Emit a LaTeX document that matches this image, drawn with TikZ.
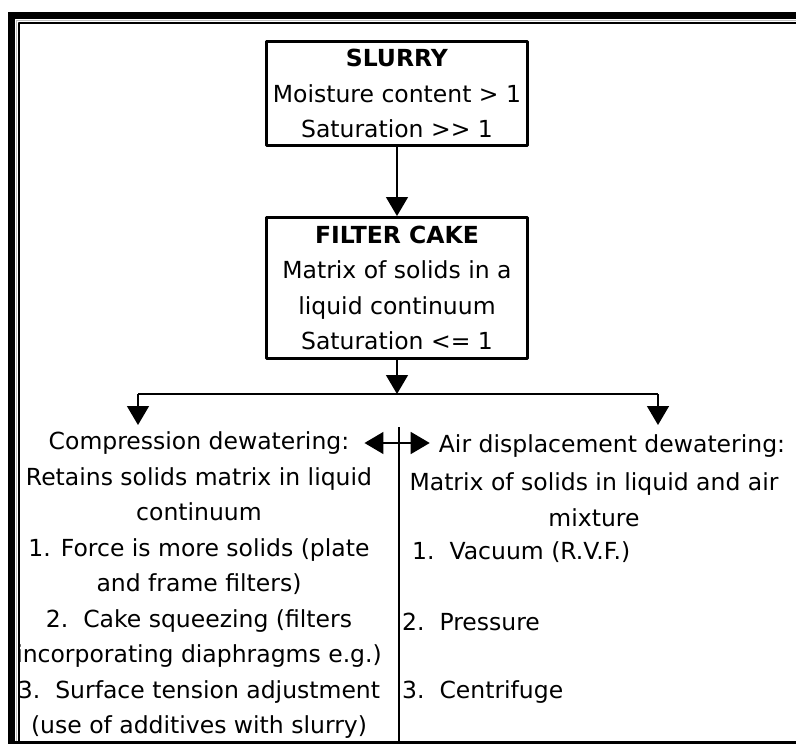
\documentclass[tikz,border=0pt]{standalone}
\usepackage{fontspec}
\setmainfont{DejaVu Sans}
\usetikzlibrary{arrows.meta}

\begin{document}
\begin{tikzpicture}[x=1pt,y=-1pt,line join=bevel,
  >={Triangle[length=19pt,width=22pt]},
  every node/.style={font=\fontsize{23.5}{35.5}\selectfont},
  box/.style={draw,rectangle,line width=3pt,minimum width=261pt,align=center,inner sep=0pt},
  txt/.style={inner sep=0pt,align=center},
  link/.style={line width=1.5pt}]
%%
\useasboundingbox (0,0) rectangle (796,744);
% frame
\fill (8,12) rectangle (796,19);
\fill (8,12) rectangle (15,744);
\fill (15,741) rectangle (796,744);
\draw[gray!50,line width=1pt] (16.5,741) -- (16.5,20.5) -- (796,20.5);
\draw[line width=2pt] (19,741) -- (19,22.5) -- (796,22.5);
%%
\node (A) at (397,93.5) [box,minimum height=104pt] {\textbf{SLURRY}\\Moisture content > 1\\Saturation >\kern0pt> 1};
\node (B) at (397,288) [box,minimum height=141pt] {\textbf{FILTER CAKE}\\Matrix of solids in a\\liquid continuum\\Saturation <= 1};
\coordinate (S) at (397,394);
\coordinate (L) at (138,394);
\coordinate (R) at (658,394);
\coordinate (L1) at (138,425);
\coordinate (R1) at (658,425);
\coordinate (V) at (399,427);
\coordinate (V1) at (399,741);
\draw [link,->] (A) -- (B);
\draw [link,->] (B) -- (S);
\draw [link] (L) -- (R);
\draw [link,->] (L) -- (L1);
\draw [link,->] (R) -- (R1);
\draw [link] (V) -- (V1);
%% compression side
\node (C) at (199,443) [txt] {Compression dewatering:};
\node (D) at (199,603) [txt] {Retains solids matrix in liquid\\continuum\\1. Force is more solids (plate\\and frame filters)\\2.\ \ Cake squeezing (filters\\incorporating diaphragms e.g.)\\3.\ \ Surface tension adjustment\\(use of additives with slurry)};
%% air side
\node (E) at (612,446) [txt] {Air displacement dewatering:};
\node (F) at (594,499.5) [txt] {Matrix of solids in liquid and air\\mixture};
\node (G) at (412,552) [txt,anchor=west] {1.\ \ Vacuum (R.V.F.)};
\node (H) at (402,622) [txt,anchor=west] {2.\ \ Pressure};
\node (I) at (402,692) [txt,anchor=west] {3.\ \ Centrifuge};
\draw [link,<->,shorten <=15pt,shorten >=9pt] (C.east) -- (C.east -| E.west);
%
\end{tikzpicture}
\end{document}
